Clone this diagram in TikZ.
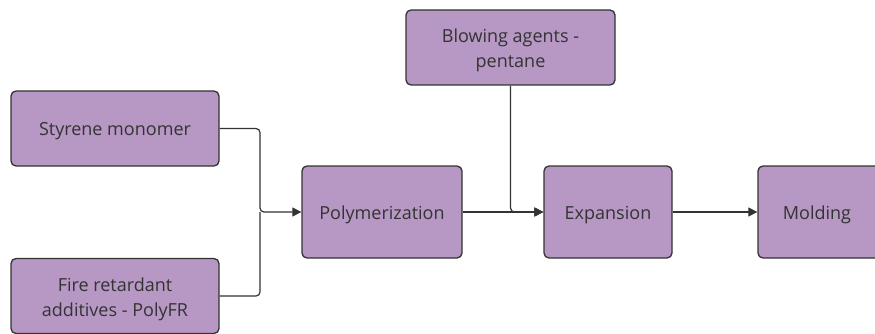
\documentclass[tikz,border=0pt]{standalone}
\usepackage{fontspec}
\setmainfont{Open Sans}
\usetikzlibrary{arrows.meta}
\definecolor{boxfill}{HTML}{B797C3}
\definecolor{ink}{HTML}{333333}
\tikzset{
  stagefont/.style={font=\fontsize{18}{25}\selectfont},
  stage/.style={draw=ink, line width=1.3pt, fill=boxfill, rounded corners=5pt,
    inner sep=0pt},
  caption/.style={label={[text=ink, align=center, stagefont, yshift=-3pt]center:#1}},
  flow/.style={draw=ink, line width=1.2pt, rounded corners=4pt,
    -{Triangle[length=9pt,width=9pt]}},
  link/.style={draw=ink, line width=1.2pt, rounded corners=4pt}
}
\begin{document}
\begin{tikzpicture}[x=1pt,y=-1pt]
\useasboundingbox (0,0) rectangle (875,334);
\node[stage, minimum width=208pt, minimum height=75pt,
  caption={Styrene monomer}] (sty) at (115,128.5) {};
\node[stage, minimum width=208pt, minimum height=75pt,
  caption={Fire retardant\\additives - PolyFR}] (fire) at (115,296) {};
\node[stage, minimum width=160pt, minimum height=92pt,
  caption={Polymerization}] (poly) at (382,212) {};
\node[stage, minimum width=209pt, minimum height=75pt,
  caption={Blowing agents -\\pentane}] (blow) at (510.5,47.5) {};
\node[stage, minimum width=128pt, minimum height=92pt,
  caption={Expansion}] (exp) at (608,212) {};
\node[stage, minimum width=160pt, minimum height=92pt] (mold) at (838,212) {};
\node[text=ink, stagefont, yshift=-3pt] (moldtxt) at (817,212) {Molding};
\coordinate (join) at (260,212);
\draw[flow] (sty.east) -| (join) -- (poly.west);
\draw[link] (fire.east) -| (join);
\draw[flow] (poly.east) -- (exp.west);
\draw[flow] (blow.south) |- (exp.west);
\draw[flow] (exp.east) -- (mold.west);
\end{tikzpicture}
\end{document}
